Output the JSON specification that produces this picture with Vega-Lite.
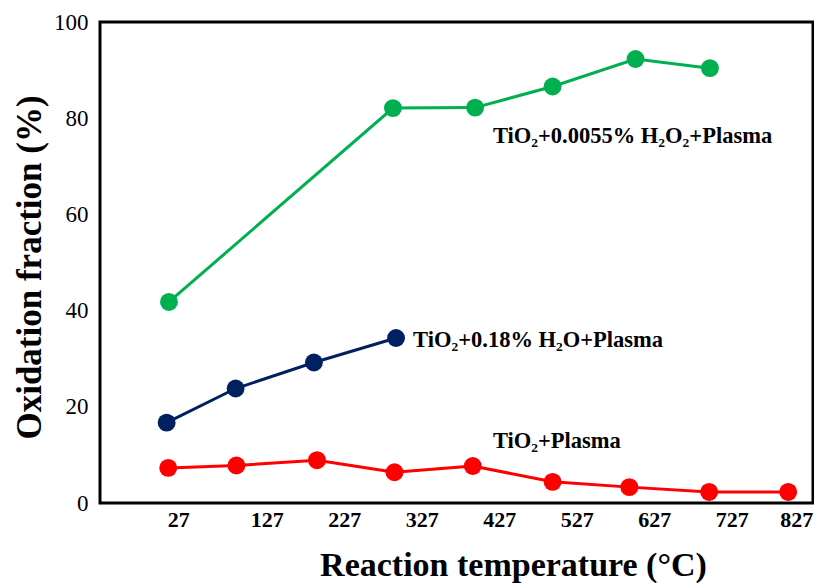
{
  "$schema": "https://vega.github.io/schema/vega-lite/v6.json",
  "width": 713,
  "height": 481,
  "autosize": {"type": "none"},
  "padding": {"left": 100, "top": 22, "right": 1, "bottom": 80},
  "background": "white",
  "config": {
    "view": {"stroke": "black", "strokeWidth": 3},
    "font": "Liberation Serif"
  },
  "datasets": {
    "series": [
      {"series": "TiO2+0.0055% H2O2+Plasma", "temp": 28, "value": 41.8},
      {"series": "TiO2+0.0055% H2O2+Plasma", "temp": 317, "value": 82.1},
      {"series": "TiO2+0.0055% H2O2+Plasma", "temp": 423, "value": 82.2},
      {"series": "TiO2+0.0055% H2O2+Plasma", "temp": 523, "value": 86.6},
      {"series": "TiO2+0.0055% H2O2+Plasma", "temp": 630, "value": 92.3},
      {"series": "TiO2+0.0055% H2O2+Plasma", "temp": 726, "value": 90.4},
      {"series": "TiO2+0.18% H2O+Plasma", "temp": 25, "value": 16.7},
      {"series": "TiO2+0.18% H2O+Plasma", "temp": 114, "value": 23.8},
      {"series": "TiO2+0.18% H2O+Plasma", "temp": 215, "value": 29.2},
      {"series": "TiO2+0.18% H2O+Plasma", "temp": 321, "value": 34.3},
      {"series": "TiO2+Plasma", "temp": 27, "value": 7.3},
      {"series": "TiO2+Plasma", "temp": 115, "value": 7.8},
      {"series": "TiO2+Plasma", "temp": 219, "value": 8.9},
      {"series": "TiO2+Plasma", "temp": 319, "value": 6.4},
      {"series": "TiO2+Plasma", "temp": 420, "value": 7.7},
      {"series": "TiO2+Plasma", "temp": 523, "value": 4.4},
      {"series": "TiO2+Plasma", "temp": 622, "value": 3.3},
      {"series": "TiO2+Plasma", "temp": 725, "value": 2.3},
      {"series": "TiO2+Plasma", "temp": 827, "value": 2.3}
    ],
    "labels": [
      {"label": "TiO₂+0.0055% H₂O₂+Plasma", "temp": 446, "value": 74.8},
      {"label": "TiO₂+0.18% H₂O+Plasma", "temp": 343, "value": 32.5},
      {"label": "TiO₂+Plasma", "temp": 446, "value": 11.4}
    ]
  },
  "encoding": {
    "x": {
      "field": "temp",
      "type": "quantitative",
      "scale": {"domain": [-61, 859], "nice": false, "zero": false},
      "axis": {
        "title": "Reaction temperature (°C)",
        "values": [27, 127, 227, 327, 427, 527, 627, 727, 827],
        "domain": false,
        "ticks": false,
        "tickSize": 0,
        "grid": false,
        "labelFont": "Liberation Serif",
        "labelFontSize": 22,
        "labelFontWeight": "bold",
        "labelColor": "black",
        "labelPadding": 6,
        "labelOffset": {
          "condition": [
            {"test": "datum.value == 27", "value": 10},
            {"test": "datum.value == 827", "value": 8}
          ],
          "value": 21
        },
        "labelBound": false,
        "labelOverlap": false,
        "titleFont": "Liberation Serif",
        "titleFontSize": 34,
        "titleFontWeight": "bold",
        "titleColor": "black",
        "titleAlign": "center",
        "titleBaseline": "alphabetic",
        "titleX": 413,
        "titleY": 72
      }
    },
    "y": {
      "field": "value",
      "type": "quantitative",
      "scale": {"domain": [0, 100], "nice": false},
      "axis": {
        "title": "Oxidation fraction (%)",
        "values": [0, 20, 40, 60, 80, 100],
        "domain": false,
        "ticks": false,
        "tickSize": 0,
        "grid": false,
        "labelFont": "Liberation Serif",
        "labelFontSize": 23,
        "labelColor": "black",
        "labelPadding": 12,
        "labelBound": false,
        "labelOverlap": false,
        "titleFont": "Liberation Serif",
        "titleFontSize": 35,
        "titleFontWeight": "bold",
        "titleColor": "black",
        "titleAngle": -90,
        "titleAlign": "center",
        "titleBaseline": "alphabetic",
        "titleX": -60,
        "titleY": 245
      }
    }
  },
  "layer": [
    {
      "data": {"name": "series"},
      "mark": {"type": "line", "strokeWidth": 3},
      "encoding": {
        "color": {
          "field": "series",
          "type": "nominal",
          "scale": {
            "domain": ["TiO2+0.0055% H2O2+Plasma", "TiO2+0.18% H2O+Plasma", "TiO2+Plasma"],
            "range": ["#00B050", "#002060", "#FF0000"]
          },
          "legend": null
        }
      }
    },
    {
      "data": {"name": "series"},
      "mark": {"type": "point", "filled": true, "opacity": 1, "size": 320, "shape": "circle"},
      "encoding": {
        "color": {
          "field": "series",
          "type": "nominal",
          "scale": {
            "domain": ["TiO2+0.0055% H2O2+Plasma", "TiO2+0.18% H2O+Plasma", "TiO2+Plasma"],
            "range": ["#00B050", "#002060", "#FF0000"]
          },
          "legend": null
        }
      }
    },
    {
      "data": {"name": "labels"},
      "mark": {
        "type": "text",
        "align": "left",
        "baseline": "alphabetic",
        "font": "Liberation Serif",
        "fontSize": 22.5,
        "fontWeight": "bold",
        "color": "black"
      },
      "encoding": {
        "text": {"field": "label"}
      }
    }
  ]
}
